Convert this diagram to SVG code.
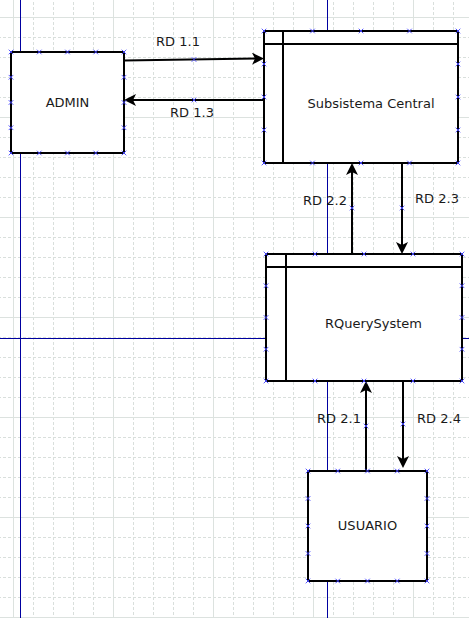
<svg xmlns="http://www.w3.org/2000/svg" xmlns:xlink="http://www.w3.org/1999/xlink" width="469" height="618" viewBox="0 0 469 618">
<style>
.box{fill:#ffffff;stroke:#000000;stroke-width:2}
.ln{fill:none;stroke:#000000;stroke-width:2}
.edge{fill:none;stroke:#000000;stroke-width:2}
.lbl{font-family:"DejaVu Sans","Liberation Sans",sans-serif;font-size:13px;fill:#1a1a1a;text-anchor:middle}
.pt{fill:none;stroke:#4444ff;stroke-width:0.9}
.guide{stroke:#0000a0;stroke-width:1;fill:none}
</style>
<defs>
<pattern id="grid" x="13" y="17" width="100" height="100" patternUnits="userSpaceOnUse">
<path d="M20.5,0V100M40.5,0V100M60.5,0V100M80.5,0V100M0,20.5H100M0,40.5H100M0,60.5H100M0,80.5H100" fill="none" stroke="#d9dfdc" stroke-width="1" stroke-dasharray="3,2"/>
<path d="M0.5,0V100M0,0.5H100" fill="none" stroke="#dce2df" stroke-width="1"/>
</pattern>
<marker id="arr" viewBox="0 0 12 12" refX="9" refY="6" markerWidth="12" markerHeight="12" markerUnits="userSpaceOnUse" orient="auto">
<path d="M0,0L12,6L0,12L3,6Z" fill="#000000"/>
</marker>
<path id="m" class="pt" d="M-2.3,-2.3L2.3,2.3M-2.3,2.3L2.3,-2.3"/>
</defs>
<rect width="469" height="618" fill="#ffffff"/>
<rect width="469" height="618" fill="url(#grid)"/>
<g id="guides">
<path class="guide" d="M20.5,0V618M0,338.5H469M327.5,0V618"/>
</g>
<g id="connectors">
<line class="edge" x1="124" y1="60.5" x2="261" y2="58.5" marker-end="url(#arr)"/>
<line class="edge" x1="264" y1="100" x2="127" y2="100" marker-end="url(#arr)"/>
<line class="edge" x1="352" y1="254" x2="352" y2="166" marker-end="url(#arr)"/>
<line class="edge" x1="402" y1="163" x2="402" y2="251" marker-end="url(#arr)"/>
<line class="edge" x1="366" y1="471" x2="366" y2="384" marker-end="url(#arr)"/>
<line class="edge" x1="403" y1="381" x2="403" y2="465" marker-end="url(#arr)"/>
<text class="lbl" x="178" y="45.5">RD 1.1</text>
<text class="lbl" x="192" y="116.5">RD 1.3</text>
<text class="lbl" x="325" y="204.5">RD 2.2</text>
<text class="lbl" x="437" y="202.5">RD 2.3</text>
<text class="lbl" x="339" y="422.5">RD 2.1</text>
<text class="lbl" x="439" y="422.5">RD 2.4</text>
<use xlink:href="#m" x="194" y="59.5"/>
<use xlink:href="#m" x="194" y="100"/>
<use xlink:href="#m" x="352" y="208"/>
<use xlink:href="#m" x="402" y="208"/>
<use xlink:href="#m" x="366" y="426"/>
<use xlink:href="#m" x="403" y="424"/>
</g>
<g id="admin">
<rect class="box" x="11" y="52" width="113" height="101"/>
<text class="lbl" x="67.5" y="107.2">ADMIN</text>
<use xlink:href="#m" x="11" y="52"/><use xlink:href="#m" x="39.25" y="52"/><use xlink:href="#m" x="67.5" y="52"/><use xlink:href="#m" x="95.75" y="52"/><use xlink:href="#m" x="124" y="52"/>
<use xlink:href="#m" x="11" y="153"/><use xlink:href="#m" x="39.25" y="153"/><use xlink:href="#m" x="67.5" y="153"/><use xlink:href="#m" x="95.75" y="153"/><use xlink:href="#m" x="124" y="153"/>
<use xlink:href="#m" x="11" y="77.25"/><use xlink:href="#m" x="11" y="102.5"/><use xlink:href="#m" x="11" y="127.75"/>
<use xlink:href="#m" x="124" y="77.25"/><use xlink:href="#m" x="124" y="102.5"/><use xlink:href="#m" x="124" y="127.75"/>
</g>
<g id="subsistema-central">
<rect class="box" x="264" y="31" width="194" height="132"/>
<path class="ln" d="M264,44H458M283,31V163"/>
<text class="lbl" x="371" y="107.7">Subsistema Central</text>
<use xlink:href="#m" x="264" y="31"/><use xlink:href="#m" x="312.5" y="31"/><use xlink:href="#m" x="361" y="31"/><use xlink:href="#m" x="409.5" y="31"/><use xlink:href="#m" x="458" y="31"/>
<use xlink:href="#m" x="264" y="163"/><use xlink:href="#m" x="312.5" y="163"/><use xlink:href="#m" x="361" y="163"/><use xlink:href="#m" x="409.5" y="163"/><use xlink:href="#m" x="458" y="163"/>
<use xlink:href="#m" x="264" y="64"/><use xlink:href="#m" x="264" y="97"/><use xlink:href="#m" x="264" y="130"/>
<use xlink:href="#m" x="458" y="64"/><use xlink:href="#m" x="458" y="97"/><use xlink:href="#m" x="458" y="130"/>
</g>
<g id="rquerysystem">
<rect class="box" x="266" y="254" width="196" height="127"/>
<path class="ln" d="M266,267H462M286,254V381"/>
<text class="lbl" x="373.5" y="327.7">RQuerySystem</text>
<use xlink:href="#m" x="266" y="254"/><use xlink:href="#m" x="315" y="254"/><use xlink:href="#m" x="364" y="254"/><use xlink:href="#m" x="413" y="254"/><use xlink:href="#m" x="462" y="254"/>
<use xlink:href="#m" x="266" y="381"/><use xlink:href="#m" x="315" y="381"/><use xlink:href="#m" x="364" y="381"/><use xlink:href="#m" x="413" y="381"/><use xlink:href="#m" x="462" y="381"/>
<use xlink:href="#m" x="266" y="285.75"/><use xlink:href="#m" x="266" y="317.5"/><use xlink:href="#m" x="266" y="349.25"/>
<use xlink:href="#m" x="462" y="285.75"/><use xlink:href="#m" x="462" y="317.5"/><use xlink:href="#m" x="462" y="349.25"/>
</g>
<g id="usuario">
<rect class="box" x="308" y="471" width="119" height="110"/>
<text class="lbl" x="367.5" y="530">USUARIO</text>
<use xlink:href="#m" x="308" y="471"/><use xlink:href="#m" x="337.75" y="471"/><use xlink:href="#m" x="367.5" y="471"/><use xlink:href="#m" x="397.25" y="471"/><use xlink:href="#m" x="427" y="471"/>
<use xlink:href="#m" x="308" y="581"/><use xlink:href="#m" x="337.75" y="581"/><use xlink:href="#m" x="367.5" y="581"/><use xlink:href="#m" x="397.25" y="581"/><use xlink:href="#m" x="427" y="581"/>
<use xlink:href="#m" x="308" y="498.5"/><use xlink:href="#m" x="308" y="526"/><use xlink:href="#m" x="308" y="553.5"/>
<use xlink:href="#m" x="427" y="498.5"/><use xlink:href="#m" x="427" y="526"/><use xlink:href="#m" x="427" y="553.5"/>
</g>
</svg>
